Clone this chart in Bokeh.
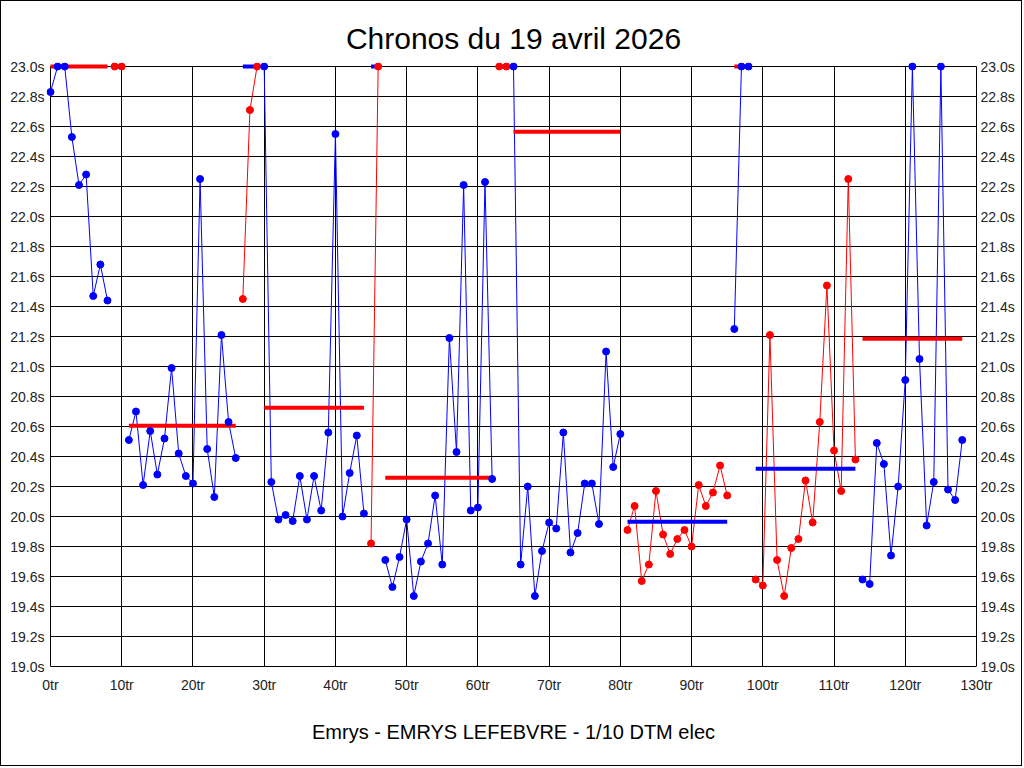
from bokeh.plotting import figure
from bokeh.models import Range1d, FixedTicker, PrintfTickFormatter, LinearAxis, Title
from bokeh.embed import file_html
from bokeh.resources import INLINE

title_text = "Chronos du 19 avril 2026"
footer_text = "Emrys - EMRYS LEFEBVRE - 1/10 DTM elec"

# lap times (s), values above 23.0 shown clamped at 23.0
times = [
    22.83, 23.0, 23.0, 22.53, 22.21, 22.28, 21.47, 21.68, 21.44,
    23.0, 23.0,
    20.51, 20.70, 20.21, 20.57, 20.28, 20.52, 20.99, 20.42, 20.27, 20.22, 22.25, 20.45, 20.13, 21.21, 20.63, 20.39,
    21.45, 22.71, 23.0,
    23.0, 20.23, 19.98, 20.01, 19.97, 20.27, 19.98, 20.27, 20.04, 20.56, 22.55, 20.00, 20.29, 20.54, 20.02,
    19.82, 23.0,
    19.71, 19.53, 19.73, 19.98, 19.47, 19.70, 19.82, 20.14, 19.68, 21.19, 20.43, 22.21, 20.04, 20.06, 22.23, 20.25,
    23.0, 23.0,
    23.0, 19.68, 20.20, 19.47, 19.77, 19.96, 19.92, 20.56, 19.76, 19.89, 20.22, 20.22, 19.95, 21.10, 20.33, 20.55,
    19.91, 20.07, 19.57, 19.68, 20.17, 19.88, 19.75, 19.85, 19.91, 19.80, 20.21, 20.07, 20.16, 20.34, 20.14,
    21.25, 23.0, 23.0,
    19.58, 19.54, 21.21, 19.71, 19.47, 19.79, 19.85, 20.24, 19.96, 20.63, 21.54, 20.44, 20.17, 22.25, 20.38,
    19.58, 19.55, 20.49, 20.35, 19.74, 20.20, 20.91, 23.0, 21.05, 19.94, 20.23, 23.0, 20.18, 20.11, 20.51,
]
laps = list(range(len(times)))

# runs (first lap, last lap) and run mean (clamped at 23.0)
seg_start = [0, 9, 11, 27, 30, 45, 47, 63, 65, 81, 96, 99, 114]
seg_end = [8, 10, 26, 29, 44, 46, 62, 64, 80, 95, 98, 113, 128]
seg_mean = [23.0, 23.0, 20.605, 23.0, 20.725, 23.0, 20.258, 23.0, 22.565, 19.965, 23.0, 20.318, 21.185]

x_min, x_max = 0, 130
y_min, y_max = 19.0, 23.0
x_ticks = list(range(0, 131, 10))
y_ticks = [19.0 + 0.2 * i for i in range(21)]

BLUE = "#0000ff"
RED = "#ff0000"
FONT = "Liberation Sans"

# small padding so markers at the plot edges are not clipped
PAD_PX = 4
x_pad = PAD_PX * (x_max - x_min) / 926.0
y_pad = PAD_PX * (y_max - y_min) / 600.0

p = figure(width=1022, height=766, output_backend="svg", toolbar_location=None,
           x_range=Range1d(x_min - x_pad, x_max + x_pad), y_range=Range1d(y_min, y_max + y_pad),
           min_border_left=49 - PAD_PX, min_border_right=47 - PAD_PX,
           min_border_top=65 - PAD_PX, min_border_bottom=101,
           background_fill_color="white", border_fill_color="white")
p.styles = {"border": "1px solid black"}

p.title.text = title_text
p.title.align = "center"
p.title.text_font = FONT
p.title.text_font_size = "30px"
p.title.text_font_style = "normal"
p.title.text_color = "black"
p.title.standoff = 15

p.add_layout(Title(text=footer_text, align="center", text_font=FONT, text_font_size="20px",
                   text_font_style="normal", text_color="black", standoff=47), "below")

p.outline_line_color = None

for ax in p.xaxis:
    ax.ticker = FixedTicker(ticks=x_ticks)
    ax.formatter = PrintfTickFormatter(format="%dtr")
    ax.bounds = (x_min, x_max)
for ax in p.yaxis:
    ax.ticker = FixedTicker(ticks=y_ticks)
    ax.formatter = PrintfTickFormatter(format="%.1fs")

right_axis = LinearAxis(ticker=FixedTicker(ticks=y_ticks), formatter=PrintfTickFormatter(format="%.1fs"))
p.add_layout(right_axis, "right")

for ax in p.axis:
    ax.major_tick_in = 0
    ax.major_tick_out = 0
    ax.minor_tick_in = 0
    ax.minor_tick_out = 0
    ax.axis_line_color = "black"
    ax.major_label_text_font = FONT
    ax.major_label_text_font_size = "14px"
    ax.major_label_text_color = "#222222"
for ax in p.yaxis:
    ax.axis_line_color = None
p.yaxis[0].major_label_standoff = 2
right_axis.major_label_standoff = 0
p.xaxis.major_label_standoff = 10

for g in p.grid:
    g.grid_line_color = "black"
    g.grid_line_width = 1
    g.grid_line_alpha = 1.0
p.xgrid.ticker = FixedTicker(ticks=x_ticks)
p.ygrid.ticker = FixedTicker(ticks=y_ticks)
p.xgrid.cross_bounds = (y_min, y_max)
p.ygrid.cross_bounds = (x_min, x_max)

# lines per run
for i, (s, e) in enumerate(zip(seg_start, seg_end)):
    c = BLUE if i % 2 == 0 else RED
    p.line(laps[s:e + 1], times[s:e + 1], line_color=c, line_width=1)

# run means
bar_colors = [RED if i % 2 == 0 else BLUE for i in range(len(seg_start))]
p.segment(x0=seg_start, y0=seg_mean, x1=seg_end, y1=seg_mean, line_color=bar_colors,
          line_width=4, line_cap="butt")

# points per run
for i, (s, e) in enumerate(zip(seg_start, seg_end)):
    c = BLUE if i % 2 == 0 else RED
    p.scatter(laps[s:e + 1], times[s:e + 1], size=7, fill_color=c, line_color=c)

open("out.html", "w").write(file_html(p, INLINE))
